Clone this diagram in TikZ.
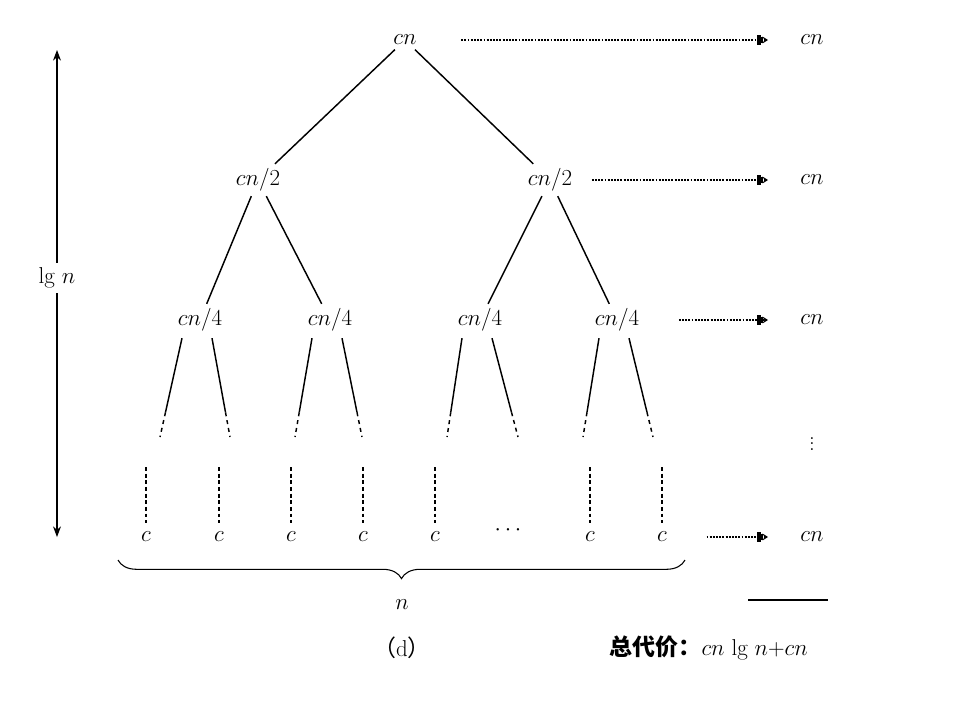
\documentclass[tikz,border=0pt]{standalone}
\usepackage{fontspec}
\newfontfamily\cjk{Noto Sans CJK SC}
\usetikzlibrary{arrows.meta,decorations.pathreplacing,calc}
\begin{document}
\begin{tikzpicture}[x=0.0264583cm,y=-0.0264583cm,
  lbl/.style={font=\LARGE},
  sumarrow/.style={densely dotted,line width=1.4pt,-{Bar[width=7pt]Bar[width=7pt]Bar[width=5pt]Stealth[length=4pt,width=5pt]}},
  edge/.style={line width=1.1pt}]
\useasboundingbox (0,0) rectangle (960,700);
% tree
\node[lbl] (r) at (405,40) {$cn$};
\node[lbl] (a) at (258,180) {$cn/2$};
\node[lbl] (b) at (550,180) {$cn/2$};
\node[lbl] (aa) at (200,320) {$cn/4$};
\node[lbl] (ab) at (330,320) {$cn/4$};
\node[lbl] (ba) at (480,320) {$cn/4$};
\node[lbl] (bb) at (617,320) {$cn/4$};
\draw[edge] (r) -- (a);
\draw[edge] (r) -- (b);
\draw[edge] (a) -- (aa);
\draw[edge] (a) -- (ab);
\draw[edge] (b) -- (ba);
\draw[edge] (b) -- (bb);
% lower branches
\foreach \p/\l/\r in {aa/160/230,ab/295/362,ba/447/518,bb/583/653}{
  \coordinate (\p-l) at (\l,437);
  \coordinate (\p-r) at (\r,437);
  \coordinate (\p-sl) at ($(\p.south)+(-18,2)$);
  \coordinate (\p-sr) at ($(\p.south)+(12,2)$);
  \draw[edge] (\p-sl) -- ($(\p-sl)!0.75!(\p-l)$) coordinate (\p-lm);
  \draw[edge] (\p-sr) -- ($(\p-sr)!0.75!(\p-r)$) coordinate (\p-rm);
  \draw[edge,dashed] (\p-lm) -- (\p-l);
  \draw[edge,dashed] (\p-rm) -- (\p-r);
}
% leaves
\foreach \x [count=\i] in {146,219,291,363,435,590,662}{
  \node[lbl] (c\i) at (\x,537) {$c$};
  \coordinate (d\i) at (\x,467);
  \draw[thick,densely dashed] (d\i) -- ($(c\i.north)+(0,-4)$);
}
\node[lbl] (dots) at (508,530) {$\cdots$};
% level sums
\node[lbl] (s1) at (812,40) {$cn$};
\node[lbl] (s2) at (812,180) {$cn$};
\node[lbl] (s3) at (812,320) {$cn$};
\node[lbl] (s4) at (812,440) {$\vdots$};
\node[lbl] (s5) at (812,537) {$cn$};
\coordinate (e1) at (768,40);
\coordinate (e2) at (768,180);
\coordinate (e3) at (768,320);
\coordinate (e5) at (768,537);
\draw[sumarrow] (r.east) ++(40,0) -- (e1);
\draw[sumarrow] (b.east) ++(15,0) -- (e2);
\draw[sumarrow] (bb.east) ++(35,0) -- (e3);
\draw[sumarrow] (c7.east) ++(35,0) -- (e5);
\coordinate (u1) at (748,600);
\coordinate (u2) at (828,600);
\draw[thick] (u1) -- (u2);
% height
\coordinate (h1) at (57,50);
\coordinate (h2) at (57,537);
\draw[thick,{Stealth[length=8pt]}-{Stealth[length=8pt]}] (h1) -- (h2);
\node[lbl,fill=white] (h) at (57,278) {lg $n$};
% brace
\coordinate (b1) at (118,560);
\coordinate (b2) at (685,560);
\draw[thick,decorate,decoration={brace,mirror,amplitude=14pt}] (b1) -- (b2);
\node[lbl] (n) at (402,605) {$n$};
\node[lbl] (cap) at (402,648) {\cjk （\normalfont d\cjk ）};
\node[lbl,anchor=west] (tot) at (605,648) {{\cjk\bfseries 总代价：}$cn$ lg $n{+}cn$};
\end{tikzpicture}
\end{document}
